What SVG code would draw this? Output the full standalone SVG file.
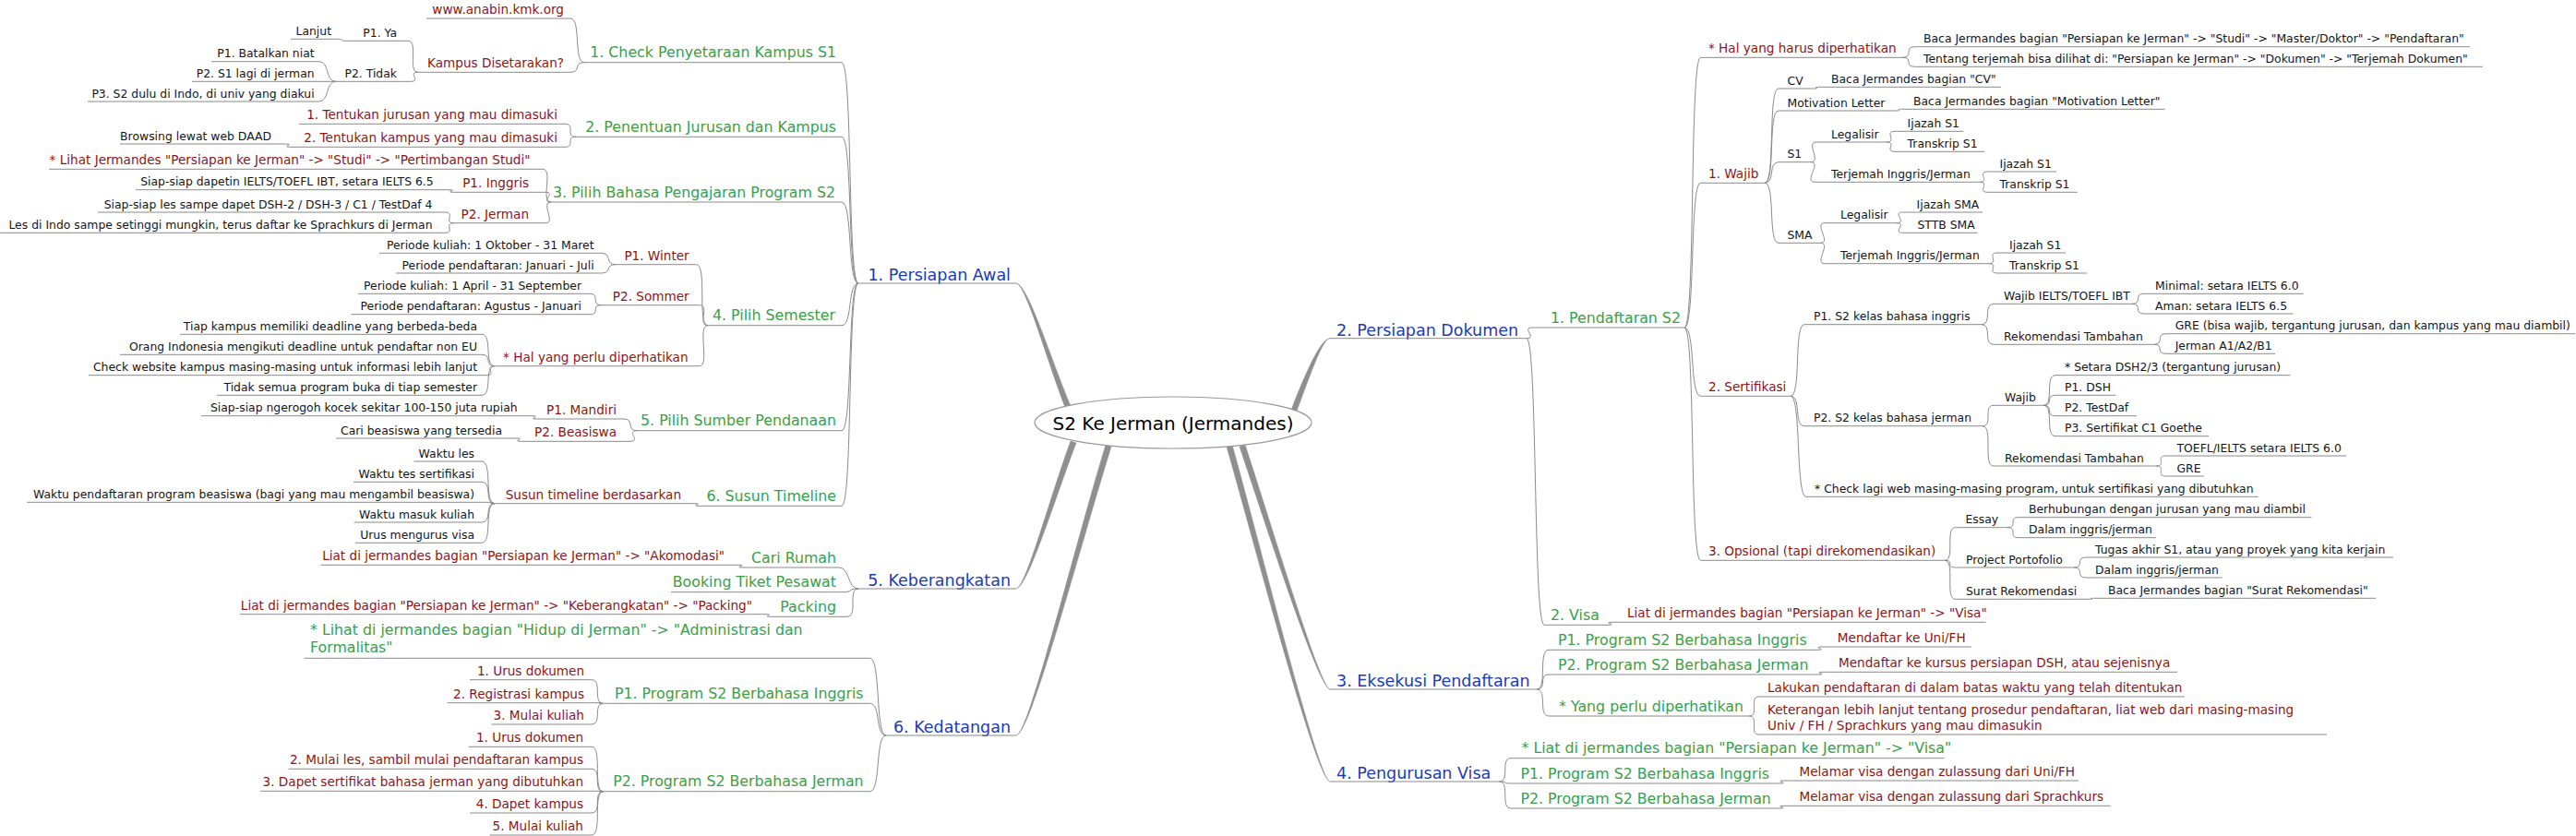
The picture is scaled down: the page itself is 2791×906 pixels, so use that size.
<svg xmlns="http://www.w3.org/2000/svg" width="2791" height="906" viewBox="0 0 2791 906">
<style>
text{font-family:"DejaVu Sans","Noto Sans",sans-serif}
.e{text-anchor:end}
.k{font-size:12.4px;fill:#141414}
.r{font-size:13.6px;fill:#8a1515}
.g{font-size:15.8px;fill:#38a048}
.b{font-size:17.5px;fill:#1b3bb5}
.root{font-size:20px;fill:#000;text-anchor:middle}
.u{stroke:#8a8a8a;stroke-width:1;fill:none}
.c path{stroke:#8a8a8a;stroke-width:1;fill:none}
.m path{fill:#8f8f8f;stroke:#8f8f8f;stroke-width:0.5}
</style>
<rect width="2791" height="906" fill="#fff"/>
<g id="main-connectors" class="m">
<path d="M1101,307 C1112,308 1137,400 1156,446 L1162,444 C1142,400 1114,307 1101,307 Z"/>
<path d="M1440,367 C1430,368 1412,410 1398,447 L1404,448 C1418,411 1432,369 1440,367 Z"/>
<path d="M1101,638 C1112,636 1137,540 1160,478 L1166,480 C1143,540 1114,636 1101,638 Z"/>
<path d="M1101,797 C1115,795 1162,600 1198,482 L1204,484 C1168,600 1117,795 1101,797 Z"/>
<path d="M1441,747 C1430,745 1378,570 1349,482 L1343,484 C1372,570 1428,745 1441,747 Z"/>
<path d="M1441,847 C1428,845 1368,600 1335,482 L1329,484 C1362,600 1426,845 1441,847 Z"/>
</g>
<g id="connectors" class="c">
<path d="M930,307 C918,307 924,67.7 912,67.7"/>
<path d="M930,307 C918,307 924,148.3 912,148.3"/>
<path d="M930,307 C918,307 924,219 912,219"/>
<path d="M930,307 C918,307 924,352.7 912,352.7"/>
<path d="M930,307 C918,307 924,466.7 912,466.7"/>
<path d="M930,307 C918,307 924,548.3 912,548.3"/>
<path d="M633,67.7 C621,67.7 630,20 618,20"/>
<path d="M633,67.7 C621,67.7 630,78.3 618,78.3"/>
<path d="M453,78.3 C441,78.3 454,44.3 442,44.3"/>
<path d="M453,78.3 C441,78.3 457,88.3 445,88.3"/>
<path d="M376,44.3 C364,44.3 376,42.3 364,42.3"/>
<path d="M364,88.3 C352,88.3 357.5,66.7 345.5,66.7"/>
<path d="M364,88.3 L358,88.3"/>
<path d="M364,88.3 C352,88.3 357.5,110 345.5,110"/>
<path d="M624,148.3 C612,148.3 624,134.3 612,134.3"/>
<path d="M624,148.3 C612,148.3 624,159.3 612,159.3"/>
<path d="M315,159.3 C303,159.3 321,156 309,156"/>
<path d="M597,219 C585,219 600,183.3 588,183.3"/>
<path d="M597,219 C585,219 603,208.3 591,208.3"/>
<path d="M597,219 C585,219 603,241.7 591,241.7"/>
<path d="M492,208.3 C480,208.3 498,205.7 486,205.7"/>
<path d="M492,241.7 C480,241.7 494,230 482,230"/>
<path d="M492,241.7 C480,241.7 494,252.3 482,252.3"/>
<path d="M767,352.7 C755,352.7 766.5,286.7 754.5,286.7"/>
<path d="M767,352.7 C755,352.7 769.6,330.7 757.6,330.7"/>
<path d="M767,352.7 C755,352.7 769.6,396.7 757.6,396.7"/>
<path d="M667,286.7 C655,286.7 663.5,274.3 651.5,274.3"/>
<path d="M667,286.7 C655,286.7 663.5,296 651.5,296"/>
<path d="M651.5,330.7 C639.5,330.7 651,318.3 639,318.3"/>
<path d="M651.5,330.7 C639.5,330.7 651,340.7 639,340.7"/>
<path d="M536,396.7 C524,396.7 534,362.3 522,362.3"/>
<path d="M536,396.7 C524,396.7 534,384.3 522,384.3"/>
<path d="M536,396.7 C524,396.7 539,406.7 527,406.7"/>
<path d="M536,396.7 C524,396.7 534,428.3 522,428.3"/>
<path d="M690,466.7 C678,466.7 688,454 676,454"/>
<path d="M690,466.7 C678,466.7 695,478.3 683,478.3"/>
<path d="M582,454 C570,454 588,450.7 576,450.7"/>
<path d="M565,478.3 C553,478.3 571,475 559,475"/>
<path d="M758,548.3 C746,548.3 764,545.7 752,545.7"/>
<path d="M536,545.7 C524,545.7 534,500 522,500"/>
<path d="M536,545.7 C524,545.7 534,522.3 522,522.3"/>
<path d="M536,545.7 C524,545.7 542,544.3 530,544.3"/>
<path d="M536,545.7 C524,545.7 534,566 522,566"/>
<path d="M536,545.7 C524,545.7 534,588.3 522,588.3"/>
<path d="M930,638 C918,638 921,615 909,615"/>
<path d="M930,638 C918,638 925,641.7 913,641.7"/>
<path d="M930,638 C918,638 930,668.3 918,668.3"/>
<path d="M805,615 C793,615 812,612.3 800,612.3"/>
<path d="M835.5,668.3 C823.5,668.3 841,665.7 829,665.7"/>
<path d="M960,797 C948,797 954.6,713.3 942.6,713.3"/>
<path d="M960,797 C948,797 954.6,762.3 942.6,762.3"/>
<path d="M960,797 C948,797 954.6,857.7 942.6,857.7"/>
<path d="M653.7,762.3 C641.7,762.3 653,736.7 641,736.7"/>
<path d="M653.7,762.3 C641.7,762.3 659,761.7 647,761.7"/>
<path d="M653.7,762.3 C641.7,762.3 653,785 641,785"/>
<path d="M653.7,857.7 C641.7,857.7 653,809.3 641,809.3"/>
<path d="M653.7,857.7 C641.7,857.7 653,833.3 641,833.3"/>
<path d="M653.7,857.7 C641.7,857.7 659,857.3 647,857.3"/>
<path d="M653.7,857.7 C641.7,857.7 653,881 641,881"/>
<path d="M653.7,857.7 C641.7,857.7 653,905 641,905"/>
<path d="M1654,366.7 C1666,366.7 1648,355 1660,355"/>
<path d="M1654,366.7 C1666,366.7 1661,677.3 1673,677.3"/>
<path d="M1825,355 C1837,355 1830.5,62.3 1842.5,62.3"/>
<path d="M1825,355 C1837,355 1830.5,198.3 1842.5,198.3"/>
<path d="M1825,355 C1837,355 1830.5,429.3 1842.5,429.3"/>
<path d="M1825,355 C1837,355 1830.5,607.3 1842.5,607.3"/>
<path d="M2061.5,62.3 C2073.5,62.3 2062.5,50.7 2074.5,50.7"/>
<path d="M2061.5,62.3 C2073.5,62.3 2062.5,72.3 2074.5,72.3"/>
<path d="M1912,198.3 C1924,198.3 1915,96 1927,96"/>
<path d="M1912,198.3 C1924,198.3 1915,120 1927,120"/>
<path d="M1912,198.3 C1924,198.3 1915,175.7 1927,175.7"/>
<path d="M1912,198.3 C1924,198.3 1915,263.3 1927,263.3"/>
<path d="M1964,96 C1976,96 1960,94.3 1972,94.3"/>
<path d="M2053,120 C2065,120 2050,118.3 2062,118.3"/>
<path d="M1962,175.7 C1974,175.7 1956,154 1968,154"/>
<path d="M1962,175.7 C1974,175.7 1954,197.3 1966,197.3"/>
<path d="M2044,154 C2056,154 2041,142.3 2053,142.3"/>
<path d="M2044,154 C2056,154 2041,164.3 2053,164.3"/>
<path d="M2144.8,197.3 C2156.8,197.3 2141.4,186 2153.4,186"/>
<path d="M2144.8,197.3 C2156.8,197.3 2141.4,208.3 2153.4,208.3"/>
<path d="M1972.5,263.3 C1984.5,263.3 1965,241.7 1977,241.7"/>
<path d="M1972.5,263.3 C1984.5,263.3 1965,285.7 1977,285.7"/>
<path d="M2055,241.7 C2067,241.7 2049.5,230 2061.5,230"/>
<path d="M2055,241.7 C2067,241.7 2049.5,252.3 2061.5,252.3"/>
<path d="M2154.7,285.7 C2166.7,285.7 2152,274 2164,274"/>
<path d="M2154.7,285.7 C2166.7,285.7 2152,296 2164,296"/>
<path d="M1940,429.3 C1952,429.3 1943,351.7 1955,351.7"/>
<path d="M1940,429.3 C1952,429.3 1943,461.7 1955,461.7"/>
<path d="M1940,429.3 C1952,429.3 1945,538.3 1957,538.3"/>
<path d="M2147,351.7 C2159,351.7 2148,329.3 2160,329.3"/>
<path d="M2147,351.7 C2159,351.7 2148,373.3 2160,373.3"/>
<path d="M2310,329.3 C2322,329.3 2311,318.3 2323,318.3"/>
<path d="M2310,329.3 C2322,329.3 2311,340 2323,340"/>
<path d="M2333.7,373.3 C2345.7,373.3 2334.7,361.7 2346.7,361.7"/>
<path d="M2333.7,373.3 C2345.7,373.3 2334.7,383.3 2346.7,383.3"/>
<path d="M2148,461.7 C2160,461.7 2148,439.3 2160,439.3"/>
<path d="M2148,461.7 C2160,461.7 2148,505 2160,505"/>
<path d="M2214,439.3 C2226,439.3 2215,406.7 2227,406.7"/>
<path d="M2214,439.3 C2226,439.3 2215,428.3 2227,428.3"/>
<path d="M2214,439.3 C2226,439.3 2215,450.7 2227,450.7"/>
<path d="M2214,439.3 C2226,439.3 2215,472.7 2227,472.7"/>
<path d="M2336,505 C2348,505 2334.7,494 2346.7,494"/>
<path d="M2336,505 C2348,505 2334.7,516 2346.7,516"/>
<path d="M2107,607.3 C2119,607.3 2106.7,571.7 2118.7,571.7"/>
<path d="M2107,607.3 C2119,607.3 2106.6,615 2118.6,615"/>
<path d="M2107,607.3 C2119,607.3 2106.6,649.3 2118.6,649.3"/>
<path d="M2175,571.7 C2187,571.7 2175,560.7 2187,560.7"/>
<path d="M2175,571.7 C2187,571.7 2175,582.7 2187,582.7"/>
<path d="M2247,615 C2259,615 2248,604 2260,604"/>
<path d="M2247,615 C2259,615 2248,626 2260,626"/>
<path d="M2262,649.3 C2274,649.3 2258,648.3 2270,648.3"/>
<path d="M1742,677.3 C1754,677.3 1735,674.3 1747,674.3"/>
<path d="M1665,747 C1677,747 1666,704.3 1678,704.3"/>
<path d="M1665,747 C1677,747 1666,731 1678,731"/>
<path d="M1665,747 C1677,747 1666,776 1678,776"/>
<path d="M1969,704.3 C1981,704.3 1962,701 1974,701"/>
<path d="M1970,731 C1982,731 1963,728.3 1975,728.3"/>
<path d="M1895,776 C1907,776 1894,755 1906,755"/>
<path d="M1895,776 C1907,776 1894,796 1906,796"/>
<path d="M1624.5,847 C1636.5,847 1625,821.7 1637,821.7"/>
<path d="M1624.5,847 C1636.5,847 1625,849 1637,849"/>
<path d="M1624.5,847 C1636.5,847 1625,876 1637,876"/>
<path d="M1928,849 C1940,849 1921,846 1933,846"/>
<path d="M1928,876 C1940,876 1921,873.3 1933,873.3"/>
</g>
<g id="root"><ellipse cx="1271" cy="458" rx="150" ry="28" fill="#fff" stroke="#999" stroke-width="1.2"/><text class="root" x="1271" y="465.5">S2 Ke Jerman (Jermandes)</text></g>
<g id="b1"><text class="b e" x="1095" y="304">1. Persiapan Awal</text><path class="u" d="M930,307H1101"/></g>
<g id="b5"><text class="b e" x="1095" y="635">5. Keberangkatan</text><path class="u" d="M930,638H1101"/></g>
<g id="b6"><text class="b e" x="1095" y="794">6. Kedatangan</text><path class="u" d="M960,797H1101"/></g>
<g id="b2"><text class="b" x="1448" y="363.5">2. Persiapan Dokumen</text><path class="u" d="M1440,366.7H1654"/></g>
<g id="b3"><text class="b" x="1448" y="744">3. Eksekusi Pendaftaran</text><path class="u" d="M1441,747H1665"/></g>
<g id="b4"><text class="b" x="1448" y="844.3">4. Pengurusan Visa</text><path class="u" d="M1441,847H1624.5"/></g>
<g id="g11"><text class="g e" x="906" y="62.2">1. Check Penyetaraan Kampus S1</text><path class="u" d="M633,67.7H912"/></g>
<g id="g12"><text class="g e" x="906" y="142.8">2. Penentuan Jurusan dan Kampus</text><path class="u" d="M624,148.3H912"/></g>
<g id="g13"><text class="g e" x="905" y="213.5">3. Pilih Bahasa Pengajaran Program S2</text><path class="u" d="M597,219H912"/></g>
<g id="g14"><text class="g e" x="905" y="347.2">4. Pilih Semester</text><path class="u" d="M767,352.7H912"/></g>
<g id="g15"><text class="g e" x="906" y="461.2">5. Pilih Sumber Pendanaan</text><path class="u" d="M690,466.7H912"/></g>
<g id="g16"><text class="g e" x="906" y="542.8">6. Susun Timeline</text><path class="u" d="M758,548.3H912"/></g>
<g id="g51"><text class="g e" x="906" y="609.5">Cari Rumah</text><path class="u" d="M805,615H909"/></g>
<g id="g52"><text class="g e" x="906" y="636.2">Booking Tiket Pesawat</text><path class="u" d="M727,641.7H913"/></g>
<g id="g53"><text class="g e" x="906" y="662.8">Packing</text><path class="u" d="M835.5,668.3H918"/></g>
<g id="g61"><text class="g" x="336" y="688.3">* Lihat di jermandes bagian "Hidup di Jerman" -&gt; "Administrasi dan</text><text class="g" x="336" y="707.3">Formalitas"</text><path class="u" d="M329.7,713.3H942.6"/></g>
<g id="g62"><text class="g e" x="935.6" y="756.8">P1. Program S2 Berbahasa Inggris</text><path class="u" d="M653.7,762.3H942.6"/></g>
<g id="g63"><text class="g e" x="935.6" y="852.2">P2. Program S2 Berbahasa Jerman</text><path class="u" d="M653.7,857.7H942.6"/></g>
<g id="g21"><text class="g" x="1680" y="349.5">1. Pendaftaran S2</text><path class="u" d="M1660,355H1825"/></g>
<g id="g22"><text class="g" x="1680" y="671.8">2. Visa</text><path class="u" d="M1673,677.3H1742"/></g>
<g id="g31"><text class="g" x="1688" y="698.8">P1. Program S2 Berbahasa Inggris</text><path class="u" d="M1678,704.3H1969"/></g>
<g id="g32"><text class="g" x="1688" y="725.5">P2. Program S2 Berbahasa Jerman</text><path class="u" d="M1678,731H1970"/></g>
<g id="g33"><text class="g" x="1689" y="770.5">* Yang perlu diperhatikan</text><path class="u" d="M1678,776H1895"/></g>
<g id="g41"><text class="g" x="1648.5" y="816.2">* Liat di jermandes bagian "Persiapan ke Jerman" -&gt; "Visa"</text><path class="u" d="M1637,821.7H2106.6"/></g>
<g id="g42"><text class="g" x="1647.4" y="843.5">P1. Program S2 Berbahasa Inggris</text><path class="u" d="M1637,849H1928"/></g>
<g id="g43"><text class="g" x="1647.4" y="870.5">P2. Program S2 Berbahasa Jerman</text><path class="u" d="M1637,876H1928"/></g>
<g id="r1"><text class="r e" x="611" y="15">www.anabin.kmk.org</text><path class="u" d="M462,20H618"/></g>
<g id="r2"><text class="r e" x="611" y="73.3">Kampus Disetarakan?</text><path class="u" d="M453,78.3H618"/></g>
<g id="r3"><text class="r e" x="604" y="129.3">1. Tentukan jurusan yang mau dimasuki</text><path class="u" d="M324,134.3H612"/></g>
<g id="r4"><text class="r e" x="604" y="154.3">2. Tentukan kampus yang mau dimasuki</text><path class="u" d="M315,159.3H612"/></g>
<g id="r5"><text class="r e" x="574.5" y="178.3">* Lihat Jermandes "Persiapan ke Jerman" -&gt; "Studi" -&gt; "Pertimbangan Studi"</text><path class="u" d="M53,183.3H588"/></g>
<g id="r6"><text class="r e" x="573" y="203.3">P1. Inggris</text><path class="u" d="M492,208.3H591"/></g>
<g id="r7"><text class="r e" x="573" y="236.7">P2. Jerman</text><path class="u" d="M492,241.7H591"/></g>
<g id="r8"><text class="r e" x="746.7" y="281.7">P1. Winter</text><path class="u" d="M667,286.7H754.5"/></g>
<g id="r9"><text class="r e" x="746.7" y="325.7">P2. Sommer</text><path class="u" d="M651.5,330.7H757.6"/></g>
<g id="r10"><text class="r e" x="745.5" y="391.7">* Hal yang perlu diperhatikan</text><path class="u" d="M536,396.7H757.6"/></g>
<g id="r11"><text class="r e" x="668" y="449">P1. Mandiri</text><path class="u" d="M582,454H676"/></g>
<g id="r12"><text class="r e" x="668" y="473.3">P2. Beasiswa</text><path class="u" d="M565,478.3H683"/></g>
<g id="r13"><text class="r e" x="738" y="540.7">Susun timeline berdasarkan</text><path class="u" d="M536,545.7H752"/></g>
<g id="r14"><text class="r e" x="785" y="607.3">Liat di jermandes bagian "Persiapan ke Jerman" -&gt; "Akomodasi"</text><path class="u" d="M347.6,612.3H800"/></g>
<g id="r15"><text class="r e" x="815" y="660.7">Liat di jermandes bagian "Persiapan ke Jerman" -&gt; "Keberangkatan" -&gt; "Packing"</text><path class="u" d="M260,665.7H829"/></g>
<g id="r16"><text class="r e" x="633" y="731.7">1. Urus dokumen</text><path class="u" d="M509,736.7H641"/></g>
<g id="r17"><text class="r e" x="633" y="756.7">2. Registrasi kampus</text><path class="u" d="M484.7,761.7H647"/></g>
<g id="r18"><text class="r e" x="633" y="780">3. Mulai kuliah</text><path class="u" d="M532.5,785H641"/></g>
<g id="r19"><text class="r e" x="632" y="804.3">1. Urus dokumen</text><path class="u" d="M507.6,809.3H641"/></g>
<g id="r20"><text class="r e" x="632" y="828.3">2. Mulai les, sambil mulai pendaftaran kampus</text><path class="u" d="M312.5,833.3H641"/></g>
<g id="r21"><text class="r e" x="632" y="852.3">3. Dapet sertifikat bahasa jerman yang dibutuhkan</text><path class="u" d="M282,857.3H647"/></g>
<g id="r22"><text class="r e" x="632" y="876">4. Dapet kampus</text><path class="u" d="M509,881H641"/></g>
<g id="r23"><text class="r e" x="632" y="900">5. Mulai kuliah</text><path class="u" d="M530.6,905H641"/></g>
<g id="r24"><text class="r" x="1851" y="57.3">* Hal yang harus diperhatikan</text><path class="u" d="M1842.5,62.3H2061.5"/></g>
<g id="r25"><text class="r" x="1851" y="193.3">1. Wajib</text><path class="u" d="M1842.5,198.3H1912"/></g>
<g id="r26"><text class="r" x="1851" y="424.3">2. Sertifikasi</text><path class="u" d="M1842.5,429.3H1940"/></g>
<g id="r27"><text class="r" x="1851" y="602.3">3. Opsional (tapi direkomendasikan)</text><path class="u" d="M1842.5,607.3H2107"/></g>
<g id="r28"><text class="r" x="1763" y="669.3">Liat di jermandes bagian "Persiapan ke Jerman" -&gt; "Visa"</text><path class="u" d="M1747,674.3H2151.5"/></g>
<g id="r29"><text class="r" x="1990.8" y="696">Mendaftar ke Uni/FH</text><path class="u" d="M1974,701H2135.7"/></g>
<g id="r30"><text class="r" x="1992" y="723.3">Mendaftar ke kursus persiapan DSH, atau sejenisnya</text><path class="u" d="M1975,728.3H2359"/></g>
<g id="r31"><text class="r" x="1915" y="750">Lakukan pendaftaran di dalam batas waktu yang telah ditentukan</text><path class="u" d="M1906,755H2367"/></g>
<g id="r32"><text class="r" x="1915" y="774.3">Keterangan lebih lanjut tentang prosedur pendaftaran, liat web dari masing-masing</text><text class="r" x="1915" y="791">Univ / FH / Sprachkurs yang mau dimasukin</text><path class="u" d="M1906,796H2521"/></g>
<g id="r33"><text class="r" x="1949.5" y="841">Melamar visa dengan zulassung dari Uni/FH</text><path class="u" d="M1933,846H2252"/></g>
<g id="r34"><text class="r" x="1949.5" y="868.3">Melamar visa dengan zulassung dari Sprachkurs</text><path class="u" d="M1933,873.3H2286.6"/></g>
<g id="k1"><text class="k e" x="430" y="39.8">P1. Ya</text><path class="u" d="M376,44.3H442"/></g>
<g id="k2"><text class="k e" x="430" y="83.8">P2. Tidak</text><path class="u" d="M364,88.3H445"/></g>
<g id="k3"><text class="k e" x="359" y="37.8">Lanjut</text><path class="u" d="M315,42.3H364"/></g>
<g id="k4"><text class="k e" x="340.6" y="62.2">P1. Batalkan niat</text><path class="u" d="M229,66.7H345.5"/></g>
<g id="k5"><text class="k e" x="340.6" y="83.8">P2. S1 lagi di jerman</text><path class="u" d="M208,88.3H358"/></g>
<g id="k6"><text class="k e" x="340.6" y="105.5">P3. S2 dulu di Indo, di univ yang diakui</text><path class="u" d="M95,110H345.5"/></g>
<g id="k7"><text class="k e" x="294" y="151.5">Browsing lewat web DAAD</text><path class="u" d="M130,156H309"/></g>
<g id="k8"><text class="k e" x="469.7" y="201.2">Siap-siap dapetin IELTS/TOEFL IBT, setara IELTS 6.5</text><path class="u" d="M147,205.7H486"/></g>
<g id="k9"><text class="k e" x="468.5" y="225.5">Siap-siap les sampe dapet DSH-2 / DSH-3 / C1 / TestDaf 4</text><path class="u" d="M106,230H482"/></g>
<g id="k10"><text class="k e" x="468.5" y="247.8">Les di Indo sampe setinggi mungkin, terus daftar ke Sprachkurs di Jerman</text><path class="u" d="M0,252.3H482"/></g>
<g id="k11"><text class="k e" x="643.6" y="269.8">Periode kuliah: 1 Oktober - 31 Maret</text><path class="u" d="M411,274.3H651.5"/></g>
<g id="k12"><text class="k e" x="643.6" y="291.5">Periode pendaftaran: Januari - Juli</text><path class="u" d="M429,296H651.5"/></g>
<g id="k13"><text class="k e" x="630" y="313.8">Periode kuliah: 1 April - 31 September</text><path class="u" d="M388,318.3H639"/></g>
<g id="k14"><text class="k e" x="630" y="336.2">Periode pendaftaran: Agustus - Januari</text><path class="u" d="M380.6,340.7H639"/></g>
<g id="k15"><text class="k e" x="517" y="357.8">Tiap kampus memiliki deadline yang berbeda-beda</text><path class="u" d="M195,362.3H522"/></g>
<g id="k16"><text class="k e" x="517" y="379.8">Orang Indonesia mengikuti deadline untuk pendaftar non EU</text><path class="u" d="M130,384.3H522"/></g>
<g id="k17"><text class="k e" x="517" y="402.2">Check website kampus masing-masing untuk informasi lebih lanjut</text><path class="u" d="M96,406.7H527"/></g>
<g id="k18"><text class="k e" x="517" y="423.8">Tidak semua program buka di tiap semester</text><path class="u" d="M235,428.3H522"/></g>
<g id="k19"><text class="k e" x="560.6" y="446.2">Siap-siap ngerogoh kocek sekitar 100-150 juta rupiah</text><path class="u" d="M218,450.7H576"/></g>
<g id="k20"><text class="k e" x="544" y="470.5">Cari beasiswa yang tersedia</text><path class="u" d="M364,475H559"/></g>
<g id="k21"><text class="k e" x="514" y="495.5">Waktu les</text><path class="u" d="M448.5,500H522"/></g>
<g id="k22"><text class="k e" x="514" y="517.8">Waktu tes sertifikasi</text><path class="u" d="M383,522.3H522"/></g>
<g id="k23"><text class="k e" x="514" y="539.8">Waktu pendaftaran program beasiswa (bagi yang mau mengambil beasiswa)</text><path class="u" d="M29,544.3H530"/></g>
<g id="k24"><text class="k e" x="514" y="561.5">Waktu masuk kuliah</text><path class="u" d="M383.6,566H522"/></g>
<g id="k25"><text class="k e" x="514" y="583.8">Urus mengurus visa</text><path class="u" d="M385,588.3H522"/></g>
<g id="k26"><text class="k" x="2084" y="46.2">Baca Jermandes bagian "Persiapan ke Jerman" -&gt; "Studi" -&gt; "Master/Doktor" -&gt; "Pendaftaran"</text><path class="u" d="M2074.5,50.7H2676"/></g>
<g id="k27"><text class="k" x="2084" y="67.8">Tentang terjemah bisa dilihat di: "Persiapan ke Jerman" -&gt; "Dokumen" -&gt; "Terjemah Dokumen"</text><path class="u" d="M2074.5,72.3H2690"/></g>
<g id="k28"><text class="k" x="1936.5" y="91.5">CV</text><path class="u" d="M1927,96H1964"/></g>
<g id="k29"><text class="k" x="1984" y="89.8">Baca Jermandes bagian "CV"</text><path class="u" d="M1972,94.3H2168"/></g>
<g id="k30"><text class="k" x="1936.5" y="115.5">Motivation Letter</text><path class="u" d="M1927,120H2053"/></g>
<g id="k31"><text class="k" x="2073" y="113.8">Baca Jermandes bagian "Motivation Letter"</text><path class="u" d="M2062,118.3H2345.5"/></g>
<g id="k32"><text class="k" x="1936.5" y="171.2">S1</text><path class="u" d="M1927,175.7H1962"/></g>
<g id="k33"><text class="k" x="1984" y="149.5">Legalisir</text><path class="u" d="M1968,154H2044"/></g>
<g id="k34"><text class="k" x="2066.6" y="137.8">Ijazah S1</text><path class="u" d="M2053,142.3H2127.4"/></g>
<g id="k35"><text class="k" x="2066.6" y="159.8">Transkrip S1</text><path class="u" d="M2053,164.3H2150.4"/></g>
<g id="k36"><text class="k" x="1984" y="192.8">Terjemah Inggris/Jerman</text><path class="u" d="M1966,197.3H2144.8"/></g>
<g id="k37"><text class="k" x="2166.5" y="181.5">Ijazah S1</text><path class="u" d="M2153.4,186H2228"/></g>
<g id="k38"><text class="k" x="2166.5" y="203.8">Transkrip S1</text><path class="u" d="M2153.4,208.3H2251"/></g>
<g id="k39"><text class="k" x="1936.5" y="258.8">SMA</text><path class="u" d="M1927,263.3H1972.5"/></g>
<g id="k40"><text class="k" x="1994" y="237.2">Legalisir</text><path class="u" d="M1977,241.7H2055"/></g>
<g id="k41"><text class="k" x="2076.6" y="225.5">Ijazah SMA</text><path class="u" d="M2061.5,230H2148"/></g>
<g id="k42"><text class="k" x="2077.5" y="247.8">STTB SMA</text><path class="u" d="M2061.5,252.3H2142.6"/></g>
<g id="k43"><text class="k" x="1994" y="281.2">Terjemah Inggris/Jerman</text><path class="u" d="M1977,285.7H2154.7"/></g>
<g id="k44"><text class="k" x="2177" y="269.5">Ijazah S1</text><path class="u" d="M2164,274H2238"/></g>
<g id="k45"><text class="k" x="2177" y="291.5">Transkrip S1</text><path class="u" d="M2164,296H2261"/></g>
<g id="k46"><text class="k" x="1965" y="347.2">P1. S2 kelas bahasa inggris</text><path class="u" d="M1955,351.7H2147"/></g>
<g id="k47"><text class="k" x="2171" y="324.8">Wajib IELTS/TOEFL IBT</text><path class="u" d="M2160,329.3H2310"/></g>
<g id="k48"><text class="k" x="2335" y="313.8">Minimal: setara IELTS 6.0</text><path class="u" d="M2323,318.3H2495.7"/></g>
<g id="k49"><text class="k" x="2335" y="335.5">Aman: setara IELTS 6.5</text><path class="u" d="M2323,340H2484.5"/></g>
<g id="k50"><text class="k" x="2171" y="368.8">Rekomendasi Tambahan</text><path class="u" d="M2160,373.3H2333.7"/></g>
<g id="k51"><text class="k" x="2356.7" y="357.2">GRE (bisa wajib, tergantung jurusan, dan kampus yang mau diambil)</text><path class="u" d="M2346.7,361.7H2790"/></g>
<g id="k52"><text class="k" x="2356.7" y="378.8">Jerman A1/A2/B1</text><path class="u" d="M2346.7,383.3H2465"/></g>
<g id="k53"><text class="k" x="1965" y="457.2">P2. S2 kelas bahasa jerman</text><path class="u" d="M1955,461.7H2148"/></g>
<g id="k54"><text class="k" x="2172" y="434.8">Wajib</text><path class="u" d="M2160,439.3H2214"/></g>
<g id="k55"><text class="k" x="2237" y="402.2">* Setara DSH2/3 (tergantung jurusan)</text><path class="u" d="M2227,406.7H2481.4"/></g>
<g id="k56"><text class="k" x="2237" y="423.8">P1. DSH</text><path class="u" d="M2227,428.3H2292.5"/></g>
<g id="k57"><text class="k" x="2237" y="446.2">P2. TestDaf</text><path class="u" d="M2227,450.7H2315"/></g>
<g id="k58"><text class="k" x="2237" y="468.2">P3. Sertifikat C1 Goethe</text><path class="u" d="M2227,472.7H2393"/></g>
<g id="k59"><text class="k" x="2172" y="500.5">Rekomendasi Tambahan</text><path class="u" d="M2160,505H2336"/></g>
<g id="k60"><text class="k" x="2358.5" y="489.5">TOEFL/IELTS setara IELTS 6.0</text><path class="u" d="M2346.7,494H2542"/></g>
<g id="k61"><text class="k" x="2358.5" y="511.5">GRE</text><path class="u" d="M2346.7,516H2388"/></g>
<g id="k62"><text class="k" x="1966" y="533.8">* Check lagi web masing-masing program, untuk sertifikasi yang dibutuhkan</text><path class="u" d="M1957,538.3H2446.7"/></g>
<g id="k63"><text class="k" x="2129.5" y="567.2">Essay</text><path class="u" d="M2118.7,571.7H2175"/></g>
<g id="k64"><text class="k" x="2198" y="556.2">Berhubungan dengan jurusan yang mau diambil</text><path class="u" d="M2187,560.7H2504.4"/></g>
<g id="k65"><text class="k" x="2198" y="578.2">Dalam inggris/jerman</text><path class="u" d="M2187,582.7H2336"/></g>
<g id="k66"><text class="k" x="2130" y="610.5">Project Portofolio</text><path class="u" d="M2118.6,615H2247"/></g>
<g id="k67"><text class="k" x="2270" y="599.5">Tugas akhir S1, atau yang proyek yang kita kerjain</text><path class="u" d="M2260,604H2593"/></g>
<g id="k68"><text class="k" x="2270" y="621.5">Dalam inggris/jerman</text><path class="u" d="M2260,626H2407.7"/></g>
<g id="k69"><text class="k" x="2130" y="644.8">Surat Rekomendasi</text><path class="u" d="M2118.6,649.3H2262"/></g>
<g id="k70"><text class="k" x="2284" y="643.8">Baca Jermandes bagian "Surat Rekomendasi"</text><path class="u" d="M2270,648.3H2574"/></g>
</svg>
